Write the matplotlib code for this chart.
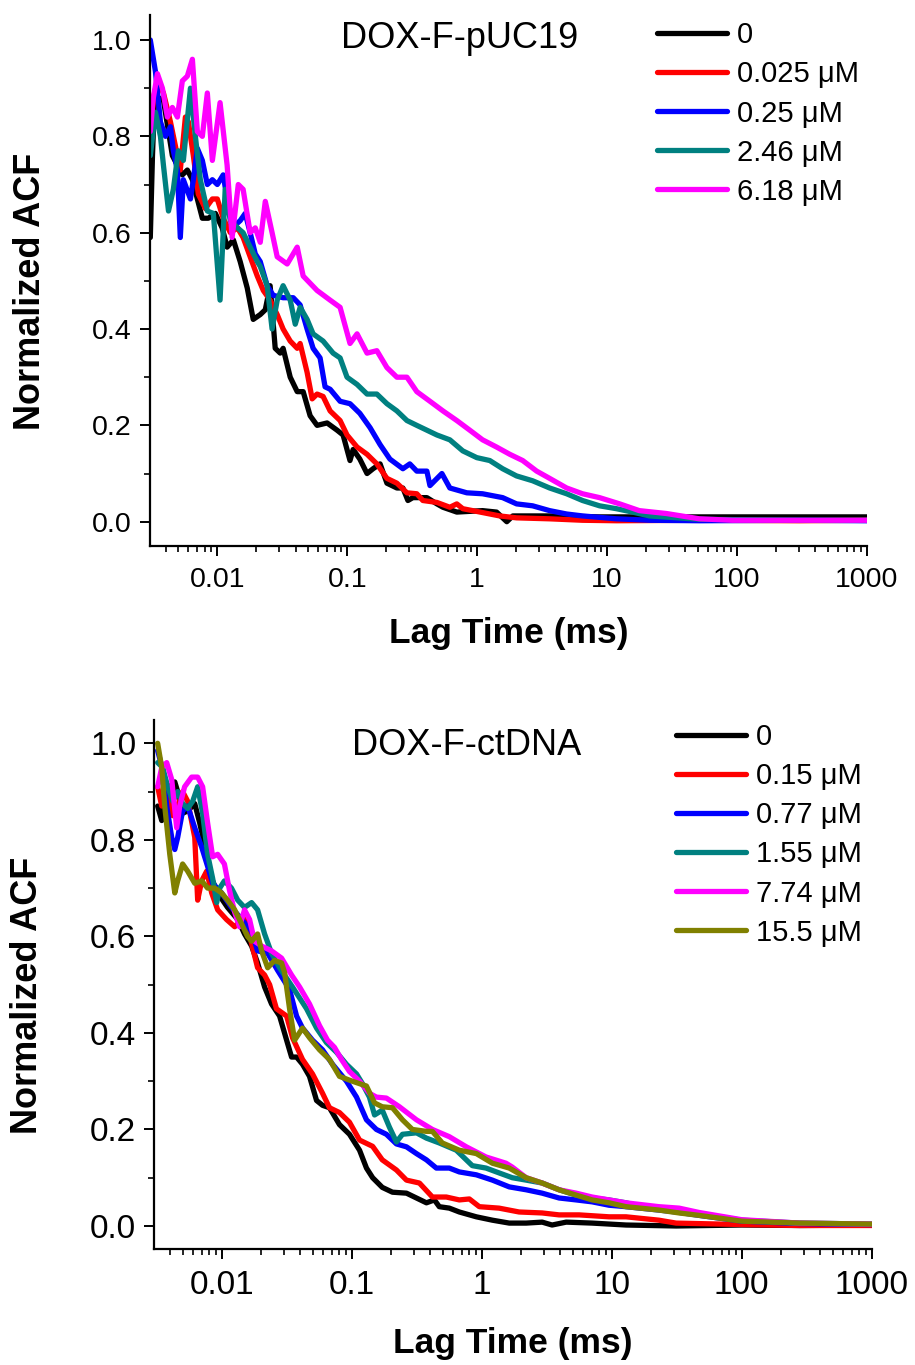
import matplotlib
matplotlib.use("Agg")
import matplotlib.pyplot as plt
from matplotlib.ticker import FixedLocator, FixedFormatter, LogLocator, NullFormatter, MultipleLocator

plt.rcParams['font.family'] = ['Liberation Sans', 'DejaVu Sans']

# ---------------- DOX-F-pUC19 ----------------
puc_labels = ["0", "0.025 μM", "0.25 μM", "2.46 μM", "6.18 μM"]
puc_colors = ["#000000", "#FF0000", "#0000FF", "#008080", "#FF00FF"]

puc_lag_0 = [0.00305, 0.00317, 0.00328, 0.00352, 0.00385, 0.00421, 0.00451, 0.00493, 0.00538, 0.00588,
             0.00643, 0.00702, 0.00767, 0.00853, 0.00966, 0.0109, 0.0119, 0.0133, 0.0150, 0.0170,
             0.0189, 0.0214, 0.0234, 0.0255, 0.0279, 0.0305, 0.0321, 0.0364, 0.0412, 0.0458,
             0.0518, 0.0586, 0.0700, 0.0835, 0.0929, 0.105, 0.111, 0.125, 0.142, 0.158,
             0.179, 0.202, 0.241, 0.268, 0.293, 0.320, 0.410, 0.490, 0.545, 0.697,
             1.10, 1.41, 1.69, 1.88, 3.61, 8.74, 51.3, 300, 1000]
puc_acf_0 = [0.59, 0.76, 0.87, 0.88, 0.875, 0.81, 0.76, 0.74, 0.72, 0.73,
             0.71, 0.67, 0.63, 0.63, 0.64, 0.61, 0.57, 0.585, 0.54, 0.485,
             0.42, 0.43, 0.44, 0.49, 0.36, 0.35, 0.36, 0.30, 0.27, 0.27,
             0.22, 0.20, 0.205, 0.19, 0.18, 0.127, 0.15, 0.13, 0.10, 0.11,
             0.12, 0.08, 0.07, 0.07, 0.044, 0.05, 0.05, 0.037, 0.03, 0.02,
             0.023, 0.02, 0.0, 0.012, 0.012, 0.01, 0.01, 0.01, 0.01]

puc_lag_1 = [0.00305, 0.00322, 0.00346, 0.00385, 0.00436, 0.00493, 0.00519, 0.00568, 0.00599, 0.00654,
             0.00714, 0.00809, 0.00916, 0.0100, 0.0111, 0.0126, 0.0143, 0.0158, 0.0179, 0.0203,
             0.0226, 0.0255, 0.0289, 0.0321, 0.0364, 0.0412, 0.0434, 0.0491, 0.0537, 0.0586,
             0.0652, 0.0738, 0.0881, 0.0996, 0.119, 0.142, 0.169, 0.202, 0.241, 0.288,
             0.343, 0.382, 0.490, 0.616, 0.697, 0.775, 1.10, 1.49, 2.01, 3.61,
             6.47, 11.8, 51.3, 300, 1000]
puc_acf_1 = [0.80, 0.88, 0.915, 0.89, 0.83, 0.76, 0.73, 0.84, 0.83, 0.76,
             0.68, 0.65, 0.67, 0.67, 0.63, 0.60, 0.61, 0.59, 0.55, 0.51,
             0.48, 0.46, 0.43, 0.40, 0.375, 0.36, 0.37, 0.31, 0.255, 0.265,
             0.26, 0.23, 0.21, 0.18, 0.155, 0.14, 0.12, 0.09, 0.08, 0.06,
             0.058, 0.044, 0.04, 0.03, 0.037, 0.027, 0.019, 0.012, 0.008, 0.006,
             0.003, 0.002, 0.003, 0.002, 0.003]

puc_lag_2 = [0.00305, 0.00334, 0.00365, 0.00399, 0.00436, 0.00459, 0.00493, 0.00519, 0.00548, 0.00621,
             0.00654, 0.00702, 0.00767, 0.00838, 0.00916, 0.0100, 0.0111, 0.0119, 0.0130, 0.0150,
             0.0164, 0.0179, 0.0196, 0.0214, 0.0242, 0.0269, 0.0321, 0.0384, 0.0434, 0.0491,
             0.0546, 0.0618, 0.0675, 0.0738, 0.0881, 0.105, 0.125, 0.150, 0.179, 0.213,
             0.268, 0.303, 0.343, 0.410, 0.433, 0.535, 0.616, 0.832, 1.10, 1.57,
             2.01, 2.67, 3.61, 4.88, 6.47, 11.8, 21.2, 51.3, 300, 1000]
puc_acf_2 = [1.00, 0.935, 0.83, 0.80, 0.82, 0.77, 0.73, 0.59, 0.71, 0.67,
             0.71, 0.775, 0.75, 0.70, 0.71, 0.70, 0.72, 0.67, 0.61, 0.625,
             0.64, 0.60, 0.556, 0.54, 0.49, 0.47, 0.465, 0.465, 0.45, 0.40,
             0.36, 0.34, 0.28, 0.275, 0.25, 0.245, 0.225, 0.195, 0.16, 0.13,
             0.11, 0.12, 0.105, 0.105, 0.075, 0.10, 0.07, 0.06, 0.058, 0.05,
             0.037, 0.033, 0.023, 0.016, 0.012, 0.006, 0.003, 0.002, 0.003, 0.002]

puc_lag_3 = [0.00305, 0.00334, 0.00365, 0.00385, 0.00421, 0.00459, 0.00501, 0.00548, 0.00621, 0.00678,
             0.00740, 0.00838, 0.00932, 0.0105, 0.0115, 0.0126, 0.0143, 0.0158, 0.0179, 0.0203,
             0.0214, 0.0242, 0.0264, 0.0289, 0.0321, 0.0364, 0.0398, 0.0434, 0.0491, 0.0546,
             0.0652, 0.0778, 0.0881, 0.0996, 0.119, 0.142, 0.169, 0.202, 0.241, 0.288,
             0.343, 0.410, 0.490, 0.616, 0.775, 0.993, 1.25, 1.57, 2.01, 2.67,
             3.61, 4.88, 6.47, 8.74, 11.8, 15.7, 21.2, 51.3, 300, 1000]
puc_acf_3 = [0.76, 0.85, 0.80, 0.74, 0.645, 0.69, 0.77, 0.75, 0.90, 0.80,
             0.71, 0.645, 0.64, 0.46, 0.69, 0.625, 0.61, 0.60, 0.57, 0.54,
             0.53, 0.49, 0.40, 0.46, 0.49, 0.46, 0.41, 0.445, 0.42, 0.39,
             0.375, 0.35, 0.34, 0.30, 0.285, 0.265, 0.265, 0.245, 0.23, 0.21,
             0.20, 0.19, 0.18, 0.17, 0.147, 0.133, 0.127, 0.11, 0.095, 0.085,
             0.07, 0.058, 0.044, 0.033, 0.027, 0.02, 0.012, 0.005, 0.003, 0.003]

puc_lag_4 = [0.00305, 0.00322, 0.00346, 0.00378, 0.00413, 0.00451, 0.00493, 0.00538, 0.00588, 0.00643,
             0.00702, 0.00767, 0.00838, 0.00916, 0.0105, 0.0119, 0.0130, 0.0145, 0.0158, 0.0179,
             0.0196, 0.0214, 0.0234, 0.0264, 0.0289, 0.0345, 0.0412, 0.0458, 0.0586, 0.0738,
             0.0881, 0.105, 0.119, 0.142, 0.169, 0.202, 0.241, 0.288, 0.343, 0.433,
             0.545, 0.697, 0.877, 1.10, 1.41, 1.78, 2.24, 2.87, 3.61, 4.88,
             6.47, 8.74, 12.5, 17.7, 28.6, 51.3, 91.9, 300, 1000]
puc_acf_4 = [0.81, 0.88, 0.93, 0.90, 0.84, 0.86, 0.84, 0.915, 0.925, 0.96,
             0.81, 0.80, 0.89, 0.75, 0.87, 0.74, 0.59, 0.70, 0.69, 0.60,
             0.61, 0.58, 0.665, 0.60, 0.55, 0.535, 0.57, 0.51, 0.48, 0.46,
             0.445, 0.37, 0.39, 0.35, 0.355, 0.32, 0.30, 0.30, 0.27, 0.25,
             0.23, 0.21, 0.19, 0.17, 0.155, 0.14, 0.127, 0.105, 0.09, 0.07,
             0.058, 0.05, 0.037, 0.023, 0.017, 0.006, 0.003, 0.003, 0.003]

# ---------------- DOX-F-ctDNA ----------------
ct_labels = ["0", "0.15 μM", "0.77 μM", "1.55 μM", "7.74 μM", "15.5 μM"]
ct_colors = ["#000000", "#FF0000", "#0000FF", "#008080", "#FF00FF", "#808000"]

ct_lag_0 = [0.00322, 0.00346, 0.00365, 0.00399, 0.00436, 0.00459, 0.00501, 0.00548, 0.00621, 0.00678,
            0.00767, 0.00838, 0.00932, 0.0111, 0.0133, 0.0150, 0.0170, 0.0189, 0.0214, 0.0242,
            0.0279, 0.0316, 0.0345, 0.0377, 0.0419, 0.0474, 0.0537, 0.0597, 0.0675, 0.0806,
            0.0962, 0.115, 0.130, 0.145, 0.172, 0.206, 0.264, 0.315, 0.376, 0.433,
            0.472, 0.564, 0.673, 0.910, 1.21, 1.63, 2.20, 2.92, 3.48, 4.47,
            7.08, 12.9, 31.3, 100, 279, 1000]
ct_acf_0 = [0.87, 0.84, 0.88, 0.91, 0.92, 0.90, 0.855, 0.86, 0.875, 0.835,
            0.77, 0.72, 0.69, 0.66, 0.635, 0.605, 0.58, 0.545, 0.495, 0.46,
            0.435, 0.385, 0.35, 0.35, 0.335, 0.31, 0.26, 0.25, 0.245, 0.21,
            0.19, 0.157, 0.12, 0.10, 0.08, 0.07, 0.068, 0.058, 0.048, 0.054,
            0.04, 0.037, 0.029, 0.019, 0.012, 0.006, 0.006, 0.008, 0.002, 0.008,
            0.006, 0.002, 0.0, 0.002, 0.001, 0.002]

ct_lag_1 = [0.00322, 0.00346, 0.00385, 0.00421, 0.00459, 0.00501, 0.00548, 0.00621, 0.00654, 0.00702,
            0.00767, 0.00838, 0.00932, 0.0109, 0.0126, 0.0143, 0.0156, 0.0170, 0.0189, 0.0214,
            0.0234, 0.0264, 0.0316, 0.0351, 0.0419, 0.0500, 0.0597, 0.0675, 0.0806, 0.0962,
            0.115, 0.145, 0.172, 0.221, 0.264, 0.332, 0.418, 0.535, 0.673, 0.804,
            0.959, 1.36, 1.94, 2.92, 3.94, 5.62, 9.55, 12.9, 23.1, 31.3,
            100, 279, 1000]
ct_acf_1 = [0.91, 0.87, 0.89, 0.85, 0.87, 0.90, 0.88, 0.805, 0.675, 0.715,
            0.735, 0.69, 0.655, 0.635, 0.62, 0.635, 0.635, 0.585, 0.535, 0.52,
            0.50, 0.45, 0.435, 0.39, 0.345, 0.315, 0.275, 0.245, 0.235, 0.215,
            0.178, 0.165, 0.137, 0.116, 0.095, 0.089, 0.06, 0.06, 0.054, 0.056,
            0.04, 0.037, 0.029, 0.027, 0.023, 0.023, 0.019, 0.019, 0.012, 0.006,
            0.003, 0.001, 0.001]

ct_lag_2 = [0.00322, 0.00352, 0.00378, 0.00413, 0.00436, 0.00459, 0.00501, 0.00548, 0.00621, 0.00702,
            0.00780, 0.00853, 0.0100, 0.0119, 0.0143, 0.0170, 0.0189, 0.0226, 0.0269, 0.0333,
            0.0377, 0.0419, 0.0500, 0.0597, 0.0713, 0.0912, 0.109, 0.130, 0.155, 0.185,
            0.221, 0.264, 0.315, 0.376, 0.448, 0.564, 0.673, 0.910, 1.21, 1.63,
            2.20, 2.92, 3.94, 5.33, 7.08, 9.55, 12.9, 23.1, 31.3, 47.0,
            100, 279, 1000]
ct_acf_2 = [0.985, 0.945, 0.87, 0.805, 0.78, 0.805, 0.86, 0.87, 0.825, 0.785,
            0.745, 0.71, 0.69, 0.66, 0.635, 0.61, 0.57, 0.565, 0.53, 0.49,
            0.435, 0.41, 0.385, 0.365, 0.335, 0.30, 0.267, 0.22, 0.20, 0.19,
            0.17, 0.164, 0.15, 0.137, 0.12, 0.12, 0.112, 0.106, 0.095, 0.081,
            0.075, 0.068, 0.058, 0.054, 0.05, 0.043, 0.04, 0.033, 0.029, 0.022,
            0.01, 0.005, 0.003]

ct_lag_3 = [0.00322, 0.00352, 0.00385, 0.00421, 0.00459, 0.00501, 0.00548, 0.00599, 0.00654, 0.00714,
            0.00780, 0.00853, 0.00916, 0.00966, 0.0105, 0.0119, 0.0133, 0.0150, 0.0170, 0.0189,
            0.0214, 0.0242, 0.0279, 0.0351, 0.0450, 0.0537, 0.0640, 0.0764, 0.0912, 0.109,
            0.121, 0.137, 0.150, 0.172, 0.195, 0.221, 0.246, 0.315, 0.376, 0.472,
            0.638, 0.847, 1.08, 1.36, 1.72, 2.20, 2.92, 3.94, 5.33, 7.08,
            9.55, 12.9, 17.1, 23.1, 33.0, 47.0, 100, 279, 1000]
ct_acf_3 = [0.96, 0.95, 0.91, 0.88, 0.90, 0.875, 0.865, 0.88, 0.91, 0.855,
            0.77, 0.72, 0.67, 0.70, 0.715, 0.70, 0.675, 0.66, 0.67, 0.655,
            0.605, 0.565, 0.535, 0.495, 0.45, 0.41, 0.38, 0.36, 0.335, 0.315,
            0.295, 0.267, 0.23, 0.24, 0.205, 0.174, 0.19, 0.193, 0.182, 0.172,
            0.157, 0.125, 0.12, 0.11, 0.10, 0.095, 0.089, 0.075, 0.064, 0.058,
            0.054, 0.048, 0.04, 0.037, 0.033, 0.025, 0.012, 0.006, 0.004]

ct_lag_4 = [0.00322, 0.00346, 0.00378, 0.00413, 0.00451, 0.00476, 0.00519, 0.00588, 0.00654, 0.00714,
            0.00780, 0.00853, 0.00932, 0.0105, 0.0115, 0.0126, 0.0137, 0.0150, 0.0164, 0.0179,
            0.0203, 0.0242, 0.0289, 0.0345, 0.0398, 0.0474, 0.0566, 0.0652, 0.0738, 0.0835,
            0.0962, 0.115, 0.137, 0.155, 0.185, 0.233, 0.315, 0.418, 0.564, 0.762,
            1.08, 1.54, 1.72, 2.20, 2.92, 3.94, 5.33, 7.08, 9.55, 12.9,
            23.1, 33.0, 47.0, 100, 279, 1000]
ct_acf_4 = [0.91, 0.95, 0.96, 0.925, 0.825, 0.87, 0.91, 0.93, 0.93, 0.91,
            0.835, 0.765, 0.77, 0.75, 0.695, 0.65, 0.62, 0.655, 0.635, 0.59,
            0.58, 0.57, 0.555, 0.52, 0.495, 0.46, 0.415, 0.385, 0.37, 0.345,
            0.32, 0.30, 0.275, 0.267, 0.265, 0.247, 0.22, 0.20, 0.185, 0.164,
            0.143, 0.13, 0.122, 0.10, 0.089, 0.075, 0.068, 0.06, 0.054, 0.048,
            0.04, 0.037, 0.028, 0.013, 0.006, 0.004]

ct_lag_5 = [0.00322, 0.00346, 0.00365, 0.00399, 0.00436, 0.00459, 0.00501, 0.00548, 0.00621, 0.00702,
            0.00780, 0.00884, 0.0100, 0.0111, 0.0126, 0.0143, 0.0158, 0.0170, 0.0189, 0.0203,
            0.0226, 0.0255, 0.0289, 0.0305, 0.0333, 0.0364, 0.0419, 0.0474, 0.0566, 0.0675,
            0.0806, 0.101, 0.130, 0.150, 0.172, 0.206, 0.246, 0.293, 0.376, 0.418,
            0.498, 0.673, 0.910, 1.21, 1.63, 2.20, 2.92, 3.94, 5.33, 7.08,
            9.55, 12.9, 23.1, 33.0, 47.0, 100, 279, 1000]
ct_acf_5 = [1.0, 0.95, 0.87, 0.77, 0.69, 0.715, 0.75, 0.735, 0.71, 0.715,
            0.70, 0.70, 0.69, 0.675, 0.655, 0.625, 0.60, 0.59, 0.605, 0.57,
            0.535, 0.55, 0.545, 0.525, 0.45, 0.385, 0.41, 0.39, 0.365, 0.345,
            0.31, 0.30, 0.29, 0.255, 0.247, 0.245, 0.22, 0.20, 0.196, 0.196,
            0.172, 0.157, 0.15, 0.13, 0.12, 0.10, 0.089, 0.075, 0.064, 0.054,
            0.048, 0.04, 0.033, 0.027, 0.022, 0.01, 0.006, 0.004]

x_ticks = [0.01, 0.1, 1, 10, 100, 1000]
x_ticklabels = ["0.01", "0.1", "1", "10", "100", "1000"]
y_ticks = [0.0, 0.2, 0.4, 0.6, 0.8, 1.0]
y_ticklabels = ["0.0", "0.2", "0.4", "0.6", "0.8", "1.0"]

puc_series = [(puc_lag_0, puc_acf_0), (puc_lag_1, puc_acf_1), (puc_lag_2, puc_acf_2),
              (puc_lag_3, puc_acf_3), (puc_lag_4, puc_acf_4)]
ct_series = [(ct_lag_0, ct_acf_0), (ct_lag_1, ct_acf_1), (ct_lag_2, ct_acf_2),
             (ct_lag_3, ct_acf_3), (ct_lag_4, ct_acf_4), (ct_lag_5, ct_acf_5)]

W, H = 915, 1365
fig = plt.figure(figsize=(W / 100, H / 100), dpi=100)
ax1 = fig.add_axes([150 / W, 1 - 545.7 / H, 717 / W, 530.7 / H])
ax2 = fig.add_axes([154.3 / W, 1 - 1249.3 / H, 717.4 / W, 529.3 / H])


def style_axes(ax, ylim, tick_fs, title, title_xy, leg_xy, xlabel_y, ylabel_x):
    ax.set_xscale("log")
    ax.set_xlim(10 ** -2.518, 1000)
    ax.set_ylim(*ylim)
    for side in ("top", "right"):
        ax.spines[side].set_visible(False)
    for side in ("left", "bottom"):
        ax.spines[side].set_linewidth(1.6)
    ax.xaxis.set_major_locator(FixedLocator(x_ticks))
    ax.xaxis.set_major_formatter(FixedFormatter(x_ticklabels))
    ax.xaxis.set_minor_locator(LogLocator(base=10, subs=range(2, 10), numticks=20))
    ax.xaxis.set_minor_formatter(NullFormatter())
    ax.yaxis.set_major_locator(FixedLocator(y_ticks))
    ax.yaxis.set_major_formatter(FixedFormatter(y_ticklabels))
    ax.yaxis.set_minor_locator(MultipleLocator(0.1))
    ax.tick_params(which="major", direction="out", length=7, width=1.4,
                   labelsize=tick_fs)
    ax.tick_params(axis="x", which="major", pad=8)
    ax.tick_params(axis="y", which="major", pad=6)
    ax.tick_params(which="minor", direction="out", length=4, width=1.2)
    ax.set_xlabel("Lag Time (ms)", fontsize=25.5, fontweight="bold")
    ax.set_ylabel("Normalized ACF", fontsize=26, fontweight="bold")
    ax.xaxis.set_label_coords(0.5, xlabel_y)
    ax.yaxis.set_label_coords(ylabel_x, 0.48)
    ax.text(title_xy[0], title_xy[1], title, transform=ax.transAxes,
            fontsize=26, ha="left", va="baseline")
    ax.legend(loc="upper left", bbox_to_anchor=leg_xy, frameon=False,
              fontsize=21, handlelength=2.4, handletextpad=0.35,
              labelspacing=0.38, borderpad=0, borderaxespad=0)


for (lag, acf), lab, col in zip(puc_series, puc_labels, puc_colors):
    ax1.plot(lag, acf, color=col, lw=3.8, label=lab,
             solid_joinstyle="round", solid_capstyle="round")
for (lag, acf), lab, col in zip(ct_series, ct_labels, ct_colors):
    ax2.plot(lag, acf, color=col, lw=3.8, label=lab,
             solid_joinstyle="round", solid_capstyle="round")

style_axes(ax1, (-0.0498, 1.0519), 20.5, "DOX-F-pUC19", (0.266, 0.937),
           (0.707, 0.988), -0.134, -0.142)
style_axes(ax2, (-0.0483, 1.0483), 24, "DOX-F-ctDNA", (0.276, 0.934),
           (0.727, 0.994), -0.147, -0.153)

fig.savefig("out.png", dpi=100)
